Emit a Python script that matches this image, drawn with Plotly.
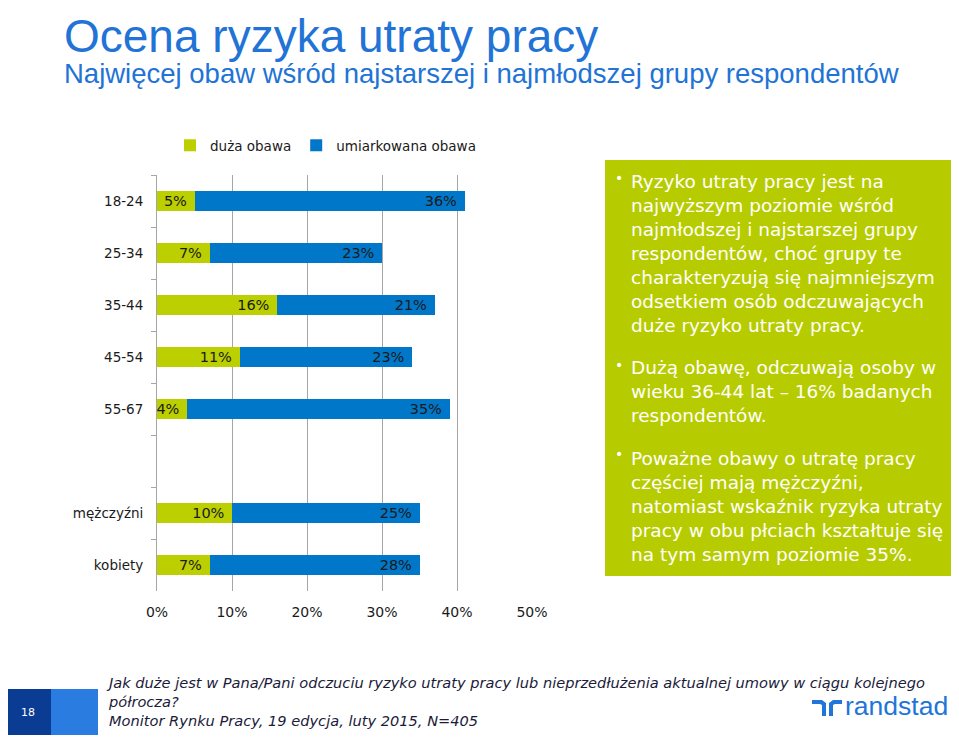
import plotly.graph_objects as go

# ---- data ----
categories = ["18-24", "25-34", "35-44", "45-54", "55-67", " ", "mężczyźni", "kobiety"]
duza_obawa = [5, 7, 16, 11, 4, None, 10, 7]
umiarkowana_obawa = [36, 23, 21, 23, 35, None, 25, 28]
x_ticks = [0, 10, 20, 30, 40, 50]
x_tick_labels = ["0%", "10%", "20%", "30%", "40%", "50%"]

series_names = ["duża obawa", "umiarkowana obawa"]

GREEN = "#BCCF00"
BLUE = "#0077C8"
BOX = "#B7CC00"
TITLE_BLUE = "#2173D6"
TXT = "#1a1a1a"

OFF = 8  # page body margin in the browser
W, H = 959 - OFF, 737 - OFF
# plot area in reference-image pixels
L, R, T, B = 157, 532, 175, 591


def px(x):
    return (x - L) / (R - L)


def py(y):
    return (B - y) / (B - T)


def lbl(v):
    return [None if a is None else f"{a}%\u00a0" for a in v]


fig = go.Figure()
fig.add_trace(go.Bar(
    y=categories, x=duza_obawa, name=series_names[0], orientation="h",
    marker=dict(color=GREEN, line=dict(width=0)),
    text=lbl(duza_obawa), textposition="inside", insidetextanchor="end",
    constraintext="none", cliponaxis=False,
    insidetextfont=dict(color=TXT, size=14.5, family="DejaVu Sans"),
    hoverinfo="skip",
))
fig.add_trace(go.Bar(
    y=categories, x=umiarkowana_obawa, name=series_names[1], orientation="h",
    marker=dict(color=BLUE, line=dict(width=0)),
    text=lbl(umiarkowana_obawa), textposition="inside", insidetextanchor="end",
    constraintext="none", cliponaxis=False,
    insidetextfont=dict(color=TXT, size=14.5, family="DejaVu Sans"),
    hoverinfo="skip",
))

shapes = []
annotations = []

# title & subtitle
annotations.append(dict(xref="paper", yref="paper", x=px(62), y=py(36), xanchor="left", yanchor="middle",
                        text="Ocena ryzyka utraty pracy", showarrow=False,
                        font=dict(family="Liberation Sans", size=46, color=TITLE_BLUE)))
annotations.append(dict(xref="paper", yref="paper", x=px(62), y=py(73), xanchor="left", yanchor="middle",
                        text="Najwięcej obaw wśród najstarszej i najmłodszej grupy respondentów", showarrow=False,
                        font=dict(family="Liberation Sans", size=27.5, color=TITLE_BLUE)))

# right green text box
shapes.append(dict(type="rect", xref="paper", yref="paper", x0=px(605), x1=px(955), y0=py(160), y1=py(576),
                   fillcolor=BOX, line=dict(width=0), layer="below"))
bullets = [
    ("Ryzyko utraty pracy jest na<br>najwyższym poziomie wśród<br>najmłodszej i najstarszej grupy<br>"
     "respondentów, choć grupy te<br>charakteryzują się najmniejszym<br>odsetkiem osób odczuwających<br>"
     "duże ryzyko utraty pracy.", 182, 180),
    ("Dużą obawę, odczuwają osoby w<br>wieku 36-44 lat – 16% badanych<br>respondentów.", 368, 367),
    ("Poważne obawy o utratę pracy<br>częściej mają mężczyźni,<br>natomiast wskaźnik ryzyka utraty<br>"
     "pracy w obu płciach kształtuje się<br>na tym samym poziomie 35%.", 459, 456),
]
for text, ymid, ybul in bullets:
    annotations.append(dict(xref="paper", yref="paper", x=px(629), y=py(ymid - 13), xanchor="left", yanchor="top",
                            text=text, showarrow=False, align="left",
                            font=dict(family="DejaVu Sans", size=18.5, color="white")))
    annotations.append(dict(xref="paper", yref="paper", x=px(613), y=py(ybul - 12), xanchor="left", yanchor="top",
                            text="•", showarrow=False, align="left",
                            font=dict(family="DejaVu Sans", size=14, color="white")))

# footer
shapes.append(dict(type="rect", xref="paper", yref="paper", x0=px(5), x1=px(51), y0=py(689), y1=py(735),
                   fillcolor="#0B3C93", line=dict(width=0)))
shapes.append(dict(type="rect", xref="paper", yref="paper", x0=px(51), x1=px(98), y0=py(689), y1=py(735),
                   fillcolor="#2B7CE0", line=dict(width=0)))
annotations.append(dict(xref="paper", yref="paper", x=px(28), y=py(712), xanchor="center", yanchor="middle",
                        text="18", showarrow=False, font=dict(family="DejaVu Sans", size=11, color="white")))
annotations.append(dict(xref="paper", yref="paper", x=px(104), y=py(672), xanchor="left", yanchor="top",
                        text="<i>Jak duże jest w Pana/Pani odczuciu ryzyko utraty pracy lub nieprzedłużenia aktualnej umowy w ciągu kolejnego<br>"
                             "półrocza?<br>Monitor Rynku Pracy, 19 edycja, luty 2015, N=405</i>",
                        showarrow=False, align="left",
                        font=dict(family="DejaVu Sans", size=14.6, color="#1b1b3a")))

# randstad logo
LOGO = "#2175D9"


def path(points):
    return "M " + " L ".join(f"{px(a):.5f},{py(b):.5f}" for a, b in points) + " Z"


shapes.append(dict(type="path", xref="paper", yref="paper",
                   path=path([(812, 700), (822, 700), (826, 703), (826, 716), (822, 716), (822, 705), (820, 704), (812, 704)]),
                   fillcolor=LOGO, line=dict(width=0)))
shapes.append(dict(type="path", xref="paper", yref="paper",
                   path=path([(829, 716), (829, 703), (833, 700), (842, 700), (842, 704), (835, 704), (833, 705), (833, 716)]),
                   fillcolor=LOGO, line=dict(width=0)))
annotations.append(dict(xref="paper", yref="paper", x=px(950), y=py(706), xanchor="right", yanchor="middle",
                        text="randstad", showarrow=False,
                        font=dict(family="Liberation Sans", size=26.5, color=LOGO)))

fig.update_layout(
    width=W, height=H,
    margin=dict(l=L - OFF, r=W - (R - OFF), t=T - OFF, b=H - (B - OFF), pad=0),
    barmode="stack", bargap=0.6,
    plot_bgcolor="white", paper_bgcolor="white",
    font=dict(family="DejaVu Sans", size=13.5, color=TXT),
    showlegend=True,
    legend=dict(orientation="h", x=px(170), y=py(130), xanchor="left", yanchor="top",
                font=dict(size=13.5, color=TXT), traceorder="normal", itemwidth=30),
    shapes=shapes, annotations=annotations,
    xaxis=dict(range=[0, 50], tickvals=x_ticks, ticktext=x_tick_labels,
               showgrid=True, gridcolor="#A6A6A6", gridwidth=1, zeroline=False,
               showline=False, ticks="outside", ticklen=8, tickcolor="rgba(0,0,0,0)",
               tickfont=dict(size=14, color=TXT), fixedrange=True),
    yaxis=dict(categoryorder="array", categoryarray=categories, autorange="reversed",
               showline=True, linecolor="#A6A6A6", linewidth=1,
               ticks="outside", tickson="boundaries", ticklen=5, tickcolor="#A6A6A6",
               ticklabelstandoff=10, showgrid=False,
               tickfont=dict(size=13.5, color=TXT), fixedrange=True),
)

fig.write_html("out.html")
